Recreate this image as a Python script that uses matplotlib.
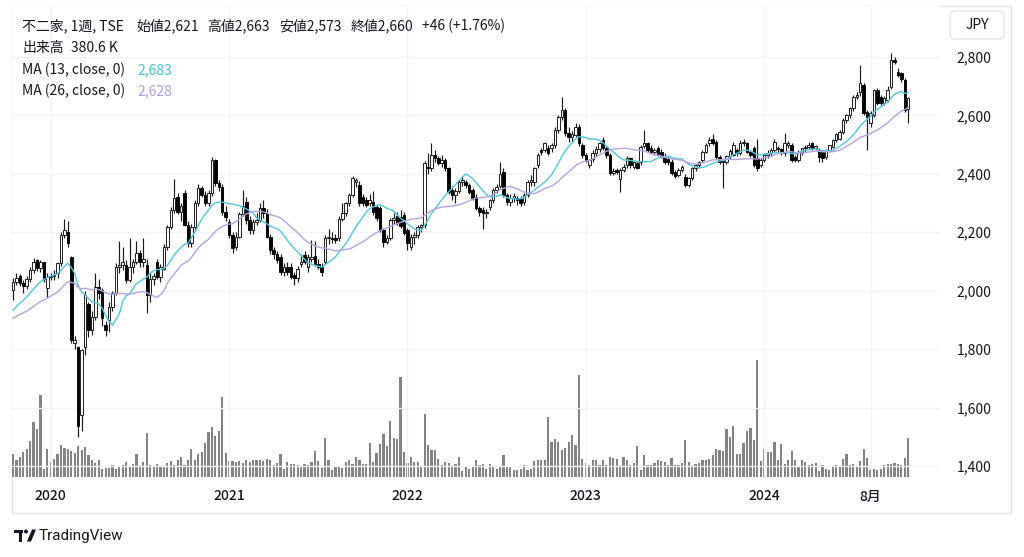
import numpy as np
import pandas as pd
import matplotlib
matplotlib.use("Agg")
import matplotlib.pyplot as plt
from matplotlib.patches import Rectangle, FancyBboxPatch, Circle, Polygon
from matplotlib.ticker import FuncFormatter

plt.rcParams['font.family'] = ['Noto Sans CJK JP', 'DejaVu Sans']

W, H = 1024, 557
TEXT = '#131722'
GRID = '#f0f3fa'

# weekly bars, first week 2019-10-21
first_week = '2019-10-21'

opens = [
    2002, 2030, 2050, 2026, 2016, 2040, 2070, 2105, 2077, 2098,
    2009, 2047, 2050, 2060, 2094, 2190, 2200, 2115, 1820, 1807,
    1574, 1807, 1954, 1865, 1910, 2012, 2002, 1882, 1900, 1944,
    1992, 2081, 2088, 2088, 2036, 2081, 2098, 2129, 2098, 2088,
    1985, 2040, 2100, 2048, 2076, 2150, 2219, 2276, 2322, 2270,
    2333, 2225, 2162, 2219, 2299, 2350, 2327, 2299, 2333, 2447,
    2367, 2356, 2270, 2236, 2190, 2150, 2185, 2262, 2305, 2242,
    2207, 2235, 2242, 2282, 2265, 2185, 2139, 2125, 2116, 2065,
    2080, 2082, 2053, 2042, 2090, 2122, 2080, 2110, 2118, 2093,
    2082, 2099, 2179, 2180, 2182, 2179, 2247, 2265, 2299, 2327,
    2372, 2362, 2320, 2310, 2300, 2305, 2285, 2282, 2207, 2167,
    2180, 2242, 2255, 2253, 2259, 2207, 2150, 2185, 2190, 2219,
    2225, 2424, 2419, 2464, 2453, 2436, 2447, 2419, 2344, 2327,
    2340, 2373, 2373, 2362, 2344, 2322, 2282, 2276, 2265, 2287,
    2310, 2344, 2360, 2407, 2327, 2305, 2316, 2316, 2313, 2305,
    2327, 2373, 2373, 2430, 2480, 2482, 2490, 2487, 2499, 2550,
    2596, 2618, 2539, 2525, 2533, 2561, 2499, 2464, 2430, 2452,
    2470, 2485, 2516, 2487, 2464, 2402, 2413, 2384, 2413, 2430,
    2453, 2423, 2437, 2442, 2497, 2504, 2490, 2476, 2487, 2476,
    2460, 2450, 2442, 2406, 2396, 2413, 2390, 2362, 2386, 2419,
    2430, 2447, 2476, 2505, 2521, 2510, 2459, 2445, 2442, 2460,
    2465, 2481, 2470, 2504, 2504, 2476, 2487, 2453, 2430, 2447,
    2465, 2470, 2481, 2490, 2485, 2470, 2500, 2499, 2459, 2447,
    2476, 2487, 2493, 2504, 2487, 2481, 2476, 2459, 2481, 2493,
    2516, 2521, 2544, 2584, 2601, 2624, 2664, 2680, 2704, 2613,
    2573, 2601, 2687, 2664, 2641, 2653, 2698, 2790, 2750, 2745,
    2721, 2621,
]
highs = [
    2045, 2060, 2058, 2035, 2050, 2080, 2112, 2110, 2105, 2100,
    2060, 2062, 2070, 2100, 2200, 2245, 2240, 2120, 1845, 1810,
    1800, 2000, 1960, 1930, 2060, 2040, 2010, 1895, 1960, 2000,
    2095, 2170, 2150, 2105, 2180, 2110, 2170, 2140, 2180, 2110,
    2060, 2060, 2110, 2090, 2160, 2225, 2285, 2384, 2335, 2300,
    2345, 2240, 2230, 2310, 2365, 2360, 2340, 2345, 2459, 2452,
    2380, 2365, 2290, 2245, 2200, 2200, 2270, 2345, 2320, 2255,
    2245, 2265, 2300, 2310, 2280, 2195, 2150, 2135, 2125, 2095,
    2100, 2095, 2065, 2085, 2125, 2135, 2125, 2175, 2170, 2110,
    2095, 2190, 2210, 2200, 2195, 2255, 2300, 2305, 2335, 2392,
    2385, 2375, 2330, 2320, 2330, 2340, 2295, 2290, 2215, 2190,
    2250, 2265, 2268, 2275, 2270, 2215, 2195, 2200, 2225, 2230,
    2445, 2470, 2507, 2480, 2460, 2465, 2455, 2425, 2360, 2350,
    2380, 2390, 2380, 2370, 2350, 2330, 2290, 2285, 2280, 2315,
    2350, 2365, 2440, 2420, 2335, 2330, 2335, 2325, 2325, 2335,
    2380, 2395, 2425, 2470, 2490, 2510, 2500, 2505, 2560, 2600,
    2664, 2625, 2560, 2545, 2575, 2570, 2505, 2470, 2450, 2480,
    2495, 2510, 2525, 2495, 2470, 2420, 2420, 2420, 2435, 2460,
    2458, 2445, 2445, 2500, 2550, 2510, 2500, 2490, 2495, 2485,
    2470, 2460, 2450, 2412, 2420, 2430, 2400, 2390, 2425, 2435,
    2445, 2480, 2505, 2525, 2535, 2515, 2465, 2450, 2465, 2485,
    2510, 2490, 2515, 2520, 2510, 2482, 2495, 2521, 2455, 2470,
    2480, 2490, 2520, 2495, 2490, 2539, 2512, 2505, 2465, 2480,
    2490, 2498, 2510, 2510, 2500, 2490, 2480, 2485, 2500, 2520,
    2540, 2550, 2590, 2605, 2630, 2670, 2680, 2773, 2712, 2620,
    2615, 2690, 2695, 2670, 2665, 2700, 2813, 2800, 2762, 2750,
    2728, 2663,
]
lows = [
    1968, 2020, 2015, 1992, 2005, 2030, 2060, 2068, 2065, 2030,
    1975, 2035, 2038, 2045, 2085, 2180, 2150, 1820, 1800, 1499,
    1520, 1780, 1840, 1850, 1900, 1970, 1880, 1845, 1860, 1930,
    1985, 2060, 2070, 2025, 2030, 2060, 2090, 2080, 2080, 1923,
    1960, 2020, 2040, 2030, 2070, 2140, 2210, 2265, 2262, 2240,
    2220, 2150, 2150, 2210, 2290, 2320, 2290, 2290, 2325, 2360,
    2340, 2260, 2240, 2180, 2130, 2140, 2180, 2255, 2230, 2195,
    2195, 2225, 2235, 2250, 2180, 2125, 2110, 2095, 2055, 2050,
    2055, 2040, 2019, 2030, 2080, 2090, 2065, 2100, 2085, 2075,
    2050, 2090, 2160, 2165, 2165, 2170, 2240, 2255, 2290, 2320,
    2355, 2290, 2290, 2285, 2290, 2260, 2240, 2200, 2150, 2160,
    2175, 2230, 2225, 2215, 2190, 2140, 2140, 2160, 2180, 2200,
    2215, 2400, 2410, 2440, 2430, 2425, 2410, 2330, 2310, 2300,
    2335, 2360, 2350, 2330, 2310, 2275, 2255, 2210, 2250, 2275,
    2300, 2335, 2350, 2320, 2295, 2290, 2305, 2295, 2290, 2295,
    2320, 2360, 2360, 2420, 2465, 2475, 2465, 2475, 2490, 2540,
    2585, 2530, 2510, 2510, 2525, 2495, 2455, 2440, 2420, 2440,
    2460, 2475, 2480, 2455, 2395, 2395, 2400, 2338, 2405, 2420,
    2420, 2415, 2415, 2430, 2490, 2475, 2470, 2465, 2460, 2455,
    2435, 2430, 2395, 2385, 2390, 2405, 2355, 2355, 2380, 2410,
    2420, 2440, 2470, 2495, 2500, 2450, 2435, 2350, 2435, 2450,
    2460, 2460, 2465, 2495, 2470, 2458, 2425, 2410, 2425, 2440,
    2455, 2460, 2475, 2470, 2465, 2460, 2490, 2440, 2440, 2440,
    2465, 2475, 2485, 2480, 2480, 2440, 2440, 2450, 2475, 2488,
    2510, 2515, 2535, 2575, 2590, 2615, 2655, 2665, 2600, 2481,
    2560, 2595, 2635, 2635, 2635, 2645, 2690, 2775, 2730, 2715,
    2612, 2573,
]
closes = [
    2030, 2045, 2026, 2016, 2040, 2070, 2098, 2077, 2098, 2040,
    2047, 2050, 2055, 2094, 2190, 2207, 2163, 1830, 1830, 1536,
    1797, 1985, 1865, 1910, 2012, 1992, 1906, 1865, 1944, 1992,
    2081, 2088, 2098, 2036, 2081, 2098, 2129, 2098, 2110, 1985,
    2040, 2050, 2048, 2080, 2150, 2219, 2276, 2316, 2270, 2290,
    2225, 2162, 2219, 2299, 2350, 2327, 2299, 2333, 2447, 2367,
    2356, 2270, 2252, 2190, 2145, 2185, 2262, 2290, 2242, 2207,
    2235, 2242, 2282, 2265, 2185, 2139, 2125, 2105, 2065, 2080,
    2065, 2048, 2042, 2076, 2099, 2099, 2116, 2116, 2093, 2082,
    2065, 2179, 2184, 2178, 2174, 2247, 2265, 2299, 2327, 2387,
    2378, 2299, 2300, 2295, 2310, 2270, 2250, 2207, 2167, 2180,
    2242, 2248, 2232, 2220, 2196, 2162, 2185, 2190, 2219, 2225,
    2436, 2419, 2464, 2453, 2436, 2447, 2419, 2339, 2327, 2340,
    2373, 2378, 2362, 2339, 2316, 2282, 2270, 2265, 2270, 2310,
    2344, 2355, 2400, 2327, 2305, 2316, 2325, 2310, 2300, 2327,
    2373, 2379, 2419, 2464, 2476, 2506, 2472, 2499, 2550, 2596,
    2618, 2539, 2525, 2535, 2560, 2504, 2464, 2447, 2447, 2470,
    2485, 2504, 2487, 2464, 2402, 2410, 2405, 2413, 2425, 2453,
    2430, 2440, 2420, 2493, 2504, 2481, 2476, 2481, 2465, 2458,
    2442, 2440, 2402, 2393, 2413, 2425, 2362, 2386, 2419, 2430,
    2440, 2476, 2499, 2516, 2504, 2459, 2442, 2440, 2460, 2478,
    2499, 2470, 2504, 2510, 2476, 2465, 2430, 2419, 2447, 2465,
    2470, 2481, 2510, 2485, 2478, 2504, 2506, 2447, 2447, 2476,
    2487, 2493, 2499, 2487, 2495, 2459, 2453, 2481, 2498, 2516,
    2535, 2544, 2584, 2601, 2624, 2664, 2670, 2710, 2607, 2596,
    2607, 2687, 2641, 2641, 2660, 2687, 2790, 2782, 2738, 2725,
    2618, 2660,
]
# volume in thousand shares
volumes = [
    225, 165, 195, 245, 275, 350, 540, 470, 800, 80,
    275, 145, 175, 225, 310, 285, 275, 255, 235, 300,
    265, 295, 215, 165, 135, 165, 80, 90, 90, 115,
    80, 105, 115, 145, 100, 125, 225, 105, 145, 430,
    120, 100, 130, 100, 100, 140, 160, 120, 170, 200,
    120, 170, 270, 170, 220, 240, 330, 440, 490, 400,
    450, 780, 230, 160, 160, 150, 160, 140, 170, 150,
    170, 170, 170, 160, 180, 170, 120, 140, 220, 80,
    150, 130, 130, 120, 100, 130, 120, 150, 250, 160,
    90, 380, 170, 70, 100, 100, 90, 150, 170, 130,
    200, 170, 130, 130, 330, 150, 230, 320, 420, 300,
    550, 380, 370, 980, 240, 140, 200, 150, 150, 100,
    620, 310, 260, 260, 180, 120, 150, 140, 110, 130,
    200, 60, 100, 80, 100, 170, 120, 130, 80, 130,
    110, 80, 100, 210, 100, 100, 70, 70, 80, 120,
    70, 80, 160, 170, 170, 170, 590, 340, 370, 340,
    260, 280, 340, 410, 310, 1000, 180, 140, 120, 170,
    170, 120, 170, 120, 200, 190, 180, 110, 200, 170,
    120, 140, 300, 70, 210, 120, 120, 140, 170, 160,
    150, 120, 190, 120, 120, 140, 360, 150, 110, 130,
    140, 170, 170, 180, 210, 270, 260, 250, 470, 390,
    500, 220, 220, 330, 450, 480, 360, 1140, 160, 270,
    240, 240, 340, 170, 320, 130, 170, 250, 170, 110,
    170, 150, 120, 130, 140, 60, 120, 80, 70, 110,
    120, 110, 180, 220, 120, 130, 100, 160, 270, 190,
    70, 80, 70, 80, 120, 130, 130, 140, 130, 120,
    190, 381,
]
# closes of the 25 weeks before the first visible bar (feed the moving averages)
pre_closes = [1870, 1860, 1875, 1885, 1880, 1870, 1865, 1880, 1890, 1885, 1880, 1890, 1895,
              1880, 1870, 1885, 1895, 1900, 1910, 1920, 1935, 1945, 1960, 1985, 2010]

price_ticks = [1400, 1600, 1800, 2000, 2200, 2400, 2600, 2800]

o = np.array(opens, float)
h = np.array(highs, float)
l = np.array(lows, float)
c = np.array(closes, float)
v = np.array(volumes, float)
n = len(c)
idx = np.arange(n)
dates = pd.date_range(first_week, periods=n, freq='7D')

allc = pd.Series(pre_closes + closes, dtype=float)
ma13 = allc.rolling(13).mean().to_numpy()[len(pre_closes):]
ma26 = allc.rolling(26).mean().to_numpy()[len(pre_closes):]

# time ticks: first week of each year, plus August 2024
tick_pos, tick_lab = [], []
for i in range(1, n):
    if dates[i].year != dates[i - 1].year:
        tick_pos.append(i)
        tick_lab.append(str(dates[i].year))
    elif dates[i].year == 2024 and dates[i].month == 8 and dates[i - 1].month == 7:
        tick_pos.append(i)
        tick_lab.append('8月')

fig = plt.figure(figsize=(W / 100, H / 100), dpi=100)
fig.patch.set_facecolor('white')

left, top, right, bottom = 12, 6, 940, 477
rect = [left / W, 1 - bottom / H, (right - left) / W, (bottom - top) / H]

ax_vol = fig.add_axes(rect)
ax = fig.add_axes(rect, sharex=ax_vol)
ax.patch.set_alpha(0)

# volume pane
ax_vol.bar(idx, v, width=0.64, color='#838383', linewidth=0)
ax_vol.set_ylim(0, 4600)
ax_vol.set_yticks([])
ax_vol.tick_params(axis='x', labelbottom=False, length=0)
for s in ax_vol.spines.values():
    s.set_visible(False)

# candles
up = c >= o
body_lo = np.minimum(o, c)
body_h = np.maximum(np.abs(c - o), 3)
ax.vlines(idx, l, h, color='#1a1a1a', lw=0.85, zorder=2)
ax.bar(idx[up], body_h[up], bottom=body_lo[up], width=0.74, color='white',
       edgecolor='#111111', linewidth=0.65, zorder=3)
ax.bar(idx[~up], body_h[~up], bottom=body_lo[~up], width=0.74, color='black',
       edgecolor='black', linewidth=0.65, zorder=3)

ax.plot(idx, ma13, color='#4cc9de', lw=1.0, zorder=4)
ax.plot(idx, ma26, color='#b7a2e0', lw=1.0, zorder=4)

x0 = -(13 - left) / 3.43
x1 = (right - 13) / 3.43
ax.set_xlim(x0, x1)
ppy = (466 - 57) / 1400.0
ax.set_ylim(1400 - (bottom - 466) / ppy, 2800 + (57 - top) / ppy)

ax.yaxis.tick_right()
ax.set_yticks(price_ticks)
ax.yaxis.set_major_formatter(FuncFormatter(lambda val, pos: f'{val:,.0f}'))
ax.tick_params(axis='y', length=0, pad=12, labelsize=10, labelcolor=TEXT)
ax.set_xticks(tick_pos)
ax.set_xticklabels(tick_lab, fontweight='medium')
ax.tick_params(axis='x', length=0, pad=9, labelsize=10, labelcolor=TEXT)
ax.grid(True, color=GRID, lw=1, zorder=0)
ax.set_axisbelow(True)
for s in ax.spines.values():
    s.set_visible(False)

# overlay for frame, header and logo (pixel coordinates)
ov = fig.add_axes([0, 0, 1, 1], zorder=-5)
ov.set_xlim(0, W)
ov.set_ylim(H, 0)
ov.axis('off')
ov.add_patch(Rectangle((left, top), 1011 - left, 513 - top, fill=False,
                       edgecolor='#e0e3eb', lw=1))

top_ov = fig.add_axes([0, 0, 1, 1], zorder=10)
top_ov.set_xlim(0, W)
top_ov.set_ylim(H, 0)
top_ov.axis('off')
top_ov.patch.set_alpha(0)
top_ov.add_patch(FancyBboxPatch((950, 11), 54, 28, boxstyle='round,pad=0,rounding_size=5',
                                facecolor='white', edgecolor='#e0e3eb', lw=1))
top_ov.text(977, 25, 'JPY', ha='center', va='center', fontsize=10, color=TEXT)

fs = 10
head = [('不二家, 1週, TSE', 22), ('始値2,621', 136), ('高値2,663', 207),
        ('安値2,573', 279), ('終値2,660', 351), ('+46 (+1.76%)', 422)]
for t, x in head:
    top_ov.text(x, 26, t, ha='left', va='center', fontsize=fs, color=TEXT)
top_ov.text(22, 48, '出来高', ha='left', va='center', fontsize=fs, color=TEXT)
top_ov.text(71, 48, '380.6 K', ha='left', va='center', fontsize=fs, color=TEXT)
top_ov.text(22, 70, 'MA (13, close, 0)', ha='left', va='center', fontsize=fs, color=TEXT)
top_ov.text(137, 70, '2,683', ha='left', va='center', fontsize=fs, color='#3fc3da')
top_ov.text(22, 91, 'MA (26, close, 0)', ha='left', va='center', fontsize=fs, color=TEXT)
top_ov.text(137, 91, '2,628', ha='left', va='center', fontsize=fs, color='#b39ddb')

# TradingView logo
top_ov.add_patch(Rectangle((14, 529.5), 9, 3.5, color=TEXT, lw=0))
top_ov.add_patch(Rectangle((18.5, 529.5), 3.5, 12, color=TEXT, lw=0))
top_ov.add_patch(Circle((26, 531.5), 2.0, color=TEXT, lw=0))
top_ov.add_patch(Polygon([(27, 541.5), (32, 529.5), (36, 529.5), (31, 541.5)], closed=True,
                         color=TEXT, lw=0))
top_ov.text(39, 536, 'TradingView', ha='left', va='center', fontsize=11, color=TEXT,
            family=['Roboto', 'DejaVu Sans'])

fig.savefig('out.png', dpi=100)
